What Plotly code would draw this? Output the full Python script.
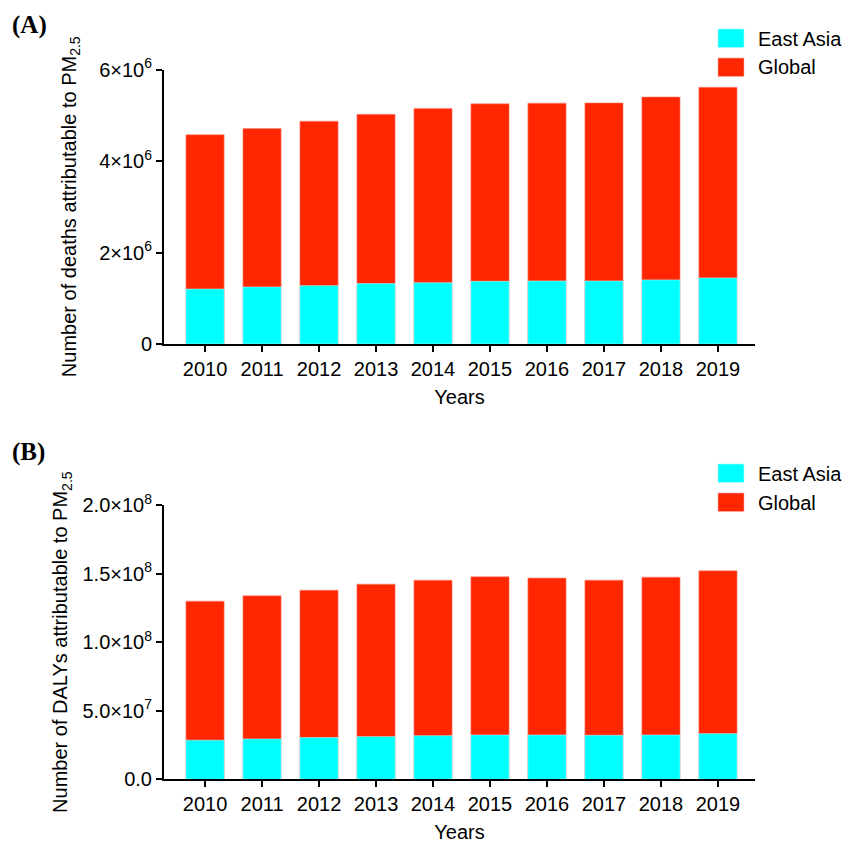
import plotly.graph_objects as go

years = ["2010", "2011", "2012", "2013", "2014", "2015", "2016", "2017", "2018", "2019"]

deaths_global = [4.575e6, 4.71e6, 4.87e6, 5.02e6, 5.15e6, 5.25e6, 5.265e6, 5.27e6, 5.40e6, 5.61e6]
deaths_east_asia = [1.20e6, 1.246e6, 1.275e6, 1.32e6, 1.34e6, 1.37e6, 1.377e6, 1.377e6, 1.40e6, 1.443e6]

dalys_global = [1.299e8, 1.338e8, 1.379e8, 1.423e8, 1.452e8, 1.477e8, 1.467e8, 1.452e8, 1.474e8, 1.52e8]
dalys_east_asia = [0.285e8, 0.294e8, 0.304e8, 0.311e8, 0.318e8, 0.323e8, 0.323e8, 0.321e8, 0.323e8, 0.333e8]

deaths_ticks = [0, 2e6, 4e6, 6e6]
deaths_ticktext = ["0", "2×10<sup>6</sup>", "4×10<sup>6</sup>", "6×10<sup>6</sup>"]
dalys_ticks = [0, 5e7, 1e8, 1.5e8, 2e8]
dalys_ticktext = ["0.0", "5.0×10<sup>7</sup>", "1.0×10<sup>8</sup>", "1.5×10<sup>8</sup>", "2.0×10<sup>8</sup>"]

series_names = ["East Asia", "Global"]

RED = "#FF2600"
CYAN = "#00FFFF"
FONT = "Liberation Sans, Arial, sans-serif"
SERIF = "Liberation Serif, Times New Roman, serif"

W, H = 856, 845
OFF = 8  # page body margin of the browser


def px_x(x):
    return (x - OFF) / W


def px_y(y):
    return 1 - (y - OFF) / H


fig = go.Figure()

# Panel A
fig.add_trace(go.Bar(x=years, y=deaths_global, name="Global", marker=dict(color=RED, line=dict(color="#ff8a80", width=0.6)),
                     width=0.67, xaxis="x", yaxis="y", showlegend=False))
fig.add_trace(go.Bar(x=years, y=deaths_east_asia, name="East Asia", marker=dict(color=CYAN, line=dict(color="#aaffff", width=0.6)),
                     width=0.67, xaxis="x", yaxis="y", showlegend=False))
# Panel B
fig.add_trace(go.Bar(x=years, y=dalys_global, name="Global", marker=dict(color=RED, line=dict(color="#ff8a80", width=0.6)),
                     width=0.67, xaxis="x2", yaxis="y2", showlegend=False))
fig.add_trace(go.Bar(x=years, y=dalys_east_asia, name="East Asia", marker=dict(color=CYAN, line=dict(color="#aaffff", width=0.6)),
                     width=0.67, xaxis="x2", yaxis="y2", showlegend=False))

xdom = [px_x(164), px_x(755)]
ydomA = [px_y(344), px_y(69.5)]
ydomB = [px_y(779.3), px_y(505)]

axis_common = dict(showline=True, linecolor="black", linewidth=2, ticks="outside", ticklen=6, tickwidth=2,
                   tickcolor="black", showgrid=False, zeroline=False, automargin=False,
                   tickfont=dict(size=20, color="black", family=FONT))

# legend swatches and labels (drawn in paper space)
shapes = []
annotations = []
legend_rows = [
    (29, [CYAN, RED]),
    (464, [CYAN, RED]),
]
for top, colors in legend_rows:
    for i, (name, col) in enumerate(zip(series_names, colors)):
        y0 = top + i * 29
        shapes.append(dict(type="rect", xref="paper", yref="paper",
                           x0=px_x(718), x1=px_x(744), y0=px_y(y0 + 18.5), y1=px_y(y0),
                           fillcolor=col, line=dict(color="#ffb0a8" if col == RED else "#b0ffff", width=0.6)))
        annotations.append(dict(text=name, xref="paper", yref="paper", x=px_x(756), y=px_y(y0 + 9.5),
                                xanchor="left", yanchor="middle", showarrow=False,
                                font=dict(family=FONT, size=20, color="black")))

annotations += [
    dict(text="<b>(A)</b>", x=px_x(10), y=px_y(25), xref="paper", yref="paper", xanchor="left", yanchor="middle",
         showarrow=False, font=dict(family=SERIF, size=25, color="black")),
    dict(text="<b>(B)</b>", x=px_x(10), y=px_y(452), xref="paper", yref="paper", xanchor="left", yanchor="middle",
         showarrow=False, font=dict(family=SERIF, size=25, color="black")),
]

fig.update_layout(
    template="none",
    width=W, height=H,
    margin=dict(l=0, r=0, t=0, b=0, autoexpand=False),
    paper_bgcolor="white", plot_bgcolor="white",
    barmode="overlay",
    showlegend=False,
    font=dict(family=FONT, color="black", size=20),
    xaxis=dict(domain=xdom, anchor="y", range=[-0.72, 9.65], type="category",
               title=dict(text="Years", font=dict(size=20), standoff=11), **axis_common),
    yaxis=dict(domain=ydomA, anchor="x", range=[0, 6e6], tickvals=deaths_ticks, ticktext=deaths_ticktext,
               title=dict(text="Number of deaths attributable to PM<sub>2.5</sub>", font=dict(size=20), standoff=17),
               **axis_common),
    xaxis2=dict(domain=xdom, anchor="y2", range=[-0.72, 9.65], type="category",
                title=dict(text="Years", font=dict(size=20), standoff=11), **axis_common),
    yaxis2=dict(domain=ydomB, anchor="x2", range=[0, 2e8], tickvals=dalys_ticks, ticktext=dalys_ticktext,
                title=dict(text="Number of DALYs attributable to PM<sub>2.5</sub>", font=dict(size=20), standoff=9),
                **axis_common),
    shapes=shapes,
    annotations=annotations,
)

fig.write_html("out.html")
